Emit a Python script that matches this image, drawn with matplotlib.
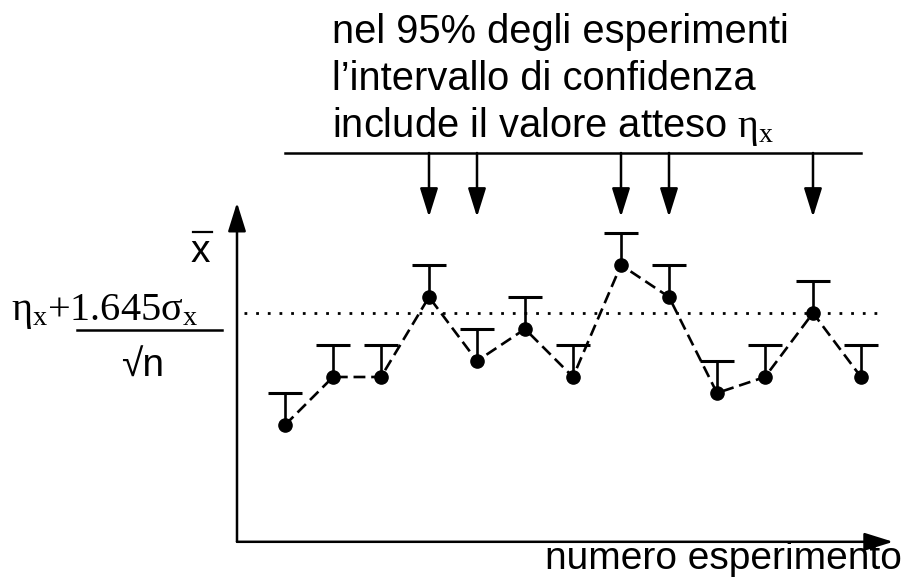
import matplotlib.pyplot as plt
from matplotlib.lines import Line2D

plt.rcParams['font.family'] = ['Liberation Sans', 'DejaVu Sans']
plt.rcParams['mathtext.fontset'] = 'custom'
plt.rcParams['mathtext.rm'] = 'Liberation Serif'
plt.rcParams['mathtext.it'] = 'Liberation Serif'
plt.rcParams['mathtext.bf'] = 'Liberation Serif:bold'
plt.rcParams['mathtext.sf'] = 'Liberation Sans'

# sample means of each experiment, in units of sigma_x/sqrt(n),
# measured from the threshold eta_x + 1.645 sigma_x/sqrt(n)
experiments = list(range(1, 14))
means = [-7, -4, -4, 1, -3, -1, -4, 3, 1, -5, -4, 0, -4]
upper_err = [2] * 13
threshold = 0
flagged = [4, 5, 8, 9, 12]   # experiments pointed at by the arrows

title_lines = ['nel 95% degli esperimenti',
               'l\u2019intervallo di confidenza',
               'include il valore atteso $\u03b7_x$']
x_label = 'numero esperimento'
y_label = 'x'
level_label = '$\u03b7_x{+}1.645\u03c3_x$'
level_denom = '\u221an'

W, H = 912, 578
def fx(px):
    return px / W
def fy(py):
    return 1 - py / H

fig = plt.figure(figsize=(W / 100, H / 100), dpi=100)
ax = fig.add_axes([0, 0, 1, 1])
ax.set_xlim(-4.9375, 14.0625)
ax.set_ylim(-16.5625, 19.5625)
ax.axis('off')

arrow_kw = dict(arrowstyle='-|>,head_length=0.8,head_width=0.25',
                mutation_scale=22, lw=1.8, color='black',
                shrinkA=0, shrinkB=0)

# axes with arrows
x_base, y_base = 0, -14.3
ax.annotate('', xy=(x_base, 6.9), xytext=(x_base, y_base), arrowprops=arrow_kw)
ax.annotate('', xy=(13.67, y_base), xytext=(x_base, y_base), arrowprops=arrow_kw)

# threshold level
ax.hlines(threshold, 0.15, 13.4, colors='black', lw=2, linestyles=[(0, (1, 3.2))])

# means joined by a dashed line
ax.plot(experiments, means, color='black', lw=1.9, ls=(0, (4.5, 2.2)), zorder=2)
ax.plot(experiments, means, 'o', color='black', ms=9.5, zorder=3)

# one-sided upper error bars
tops = [m + e for m, e in zip(means, upper_err)]
ax.vlines(experiments, means, tops, colors='black', lw=1.9)
ax.hlines(tops, [x - 0.35 for x in experiments], [x + 0.35 for x in experiments],
          colors='black', lw=2.2)

# bracket line with arrows
ax.plot([experiments[0], experiments[-1]], [10, 10], color='black', lw=1.8)
for e in flagged:
    ax.annotate('', xy=(e, 6.0), xytext=(e, 10), arrowprops=arrow_kw)

# texts
for i, line in enumerate(title_lines):
    fig.text(fx(332), fy(43 + 47 * i), line, fontsize=28.7, va='baseline', ha='left')
fig.text(fx(902), fy(569), x_label, fontsize=28, va='baseline', ha='right')

fig.text(fx(191), fy(262), y_label, fontsize=28, va='baseline', ha='left')
fig.add_artist(Line2D([fx(193), fx(212)], [fy(232), fy(232)], color='black', lw=1.6))

fig.text(fx(11), fy(320), level_label, fontsize=29, va='baseline', ha='left')
fig.add_artist(Line2D([fx(77), fx(222)], [fy(330), fy(330)], color='black', lw=1.8))
fig.text(fx(121), fy(377), level_denom, fontsize=28, va='baseline', ha='left')

fig.savefig('out.png', dpi=100)
